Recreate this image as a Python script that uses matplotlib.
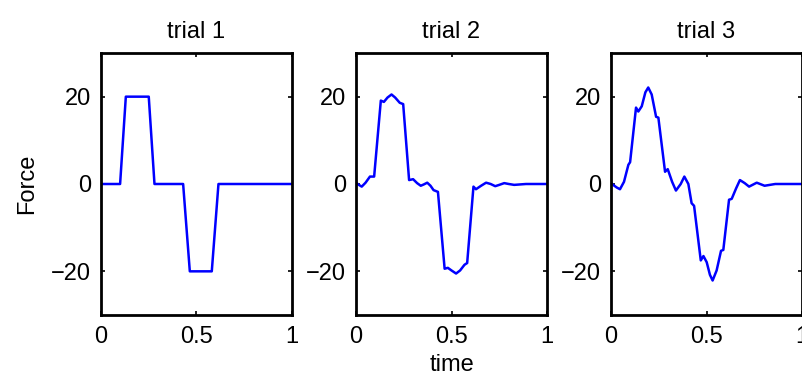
import numpy as np
import matplotlib
matplotlib.use("Agg")
import matplotlib.pyplot as plt

plt.rcParams['font.family'] = ['Liberation Sans', 'DejaVu Sans']

# force traces for the three trials (time, force)
t1 = [0, 0.10, 0.13, 0.25, 0.28, 0.43, 0.465, 0.58, 0.615, 1.0]
f1 = [0, 0, 20, 20, 0, 0, -20, -20, 0, 0]

t2 = [0, 0.015, 0.03, 0.05, 0.073, 0.095, 0.13, 0.146, 0.165, 0.186, 0.205,
      0.229, 0.247, 0.278, 0.299, 0.32, 0.339, 0.355, 0.373, 0.39, 0.406,
      0.429, 0.464, 0.481, 0.50, 0.524, 0.545, 0.568, 0.582, 0.615, 0.628,
      0.655, 0.681, 0.705, 0.729, 0.75, 0.776, 0.80, 0.828, 0.89, 1.0]
f2 = [0.3, -0.2, -0.6, 0.3, 1.7, 1.7, 19.1, 18.8, 19.8, 20.5, 19.8,
      18.6, 18.3, 0.9, 1.1, 0.2, -0.4, -0.1, 0.3, -0.4, -1.4,
      -1.8, -19.4, -19.2, -19.8, -20.5, -19.8, -18.5, -18.1, -0.6, -1.2,
      -0.4, 0.3, 0.0, -0.5, -0.2, 0.2, 0.0, -0.2, 0.0, 0.0]

t3 = [0, 0.011, 0.03, 0.047, 0.068, 0.091, 0.10, 0.131, 0.143, 0.161, 0.18,
      0.195, 0.213, 0.236, 0.248, 0.283, 0.297, 0.32, 0.34, 0.365, 0.384,
      0.405, 0.422, 0.435, 0.47, 0.484, 0.501, 0.518, 0.532, 0.553, 0.576,
      0.588, 0.618, 0.632, 0.655, 0.675, 0.70, 0.723, 0.763, 0.804, 0.86, 1.0]
f3 = [0.3, -0.2, -0.8, -1.2, 0.5, 4.4, 5.0, 17.5, 16.6, 17.8, 21.0,
      22.1, 20.5, 15.4, 15.2, 2.8, 3.4, 0.5, -1.5, 0.0, 1.7,
      0.0, -4.4, -5.0, -17.5, -16.5, -17.9, -20.8, -22.1, -19.8, -15.3,
      -15.1, -3.6, -3.4, -1.0, 0.9, 0.2, -0.6, 0.3, -0.4, 0.0, 0.0]

traces = [(t1, f1), (t2, f2), (t3, f3)]
titles = ['trial 1', 'trial 2', 'trial 3']

fs = 17
fig = plt.figure(figsize=(8.03, 3.83), dpi=100)
lefts = [101, 356, 611]
axes = []
for i, (t, f) in enumerate(traces):
    ax = fig.add_axes([lefts[i] / 803, 68 / 383, 191 / 803, 262 / 383])
    ax.plot(t, f, color='#0000ff', lw=1.8)
    ax.set_xlim(0, 1)
    ax.set_ylim(-30, 30)
    ax.set_xticks([0, 0.5, 1])
    ax.set_xticklabels(['0', '0.5', '1'])
    ax.set_yticks([-20, 0, 20])
    ax.tick_params(direction='in', length=3, width=1.2, top=True, right=True,
                   labelsize=fs)
    ax.tick_params(axis='x', pad=8)
    ax.tick_params(axis='y', pad=7)
    for s in ax.spines.values():
        s.set_linewidth(2)
    ax.set_title(titles[i], fontsize=fs, pad=11)
    axes.append(ax)

axes[0].set_ylabel('Force', fontsize=fs)
axes[0].yaxis.set_label_coords(-0.33, 0.5)
axes[1].set_xlabel('time', fontsize=fs, labelpad=4)

fig.savefig('out.png', dpi=100)
